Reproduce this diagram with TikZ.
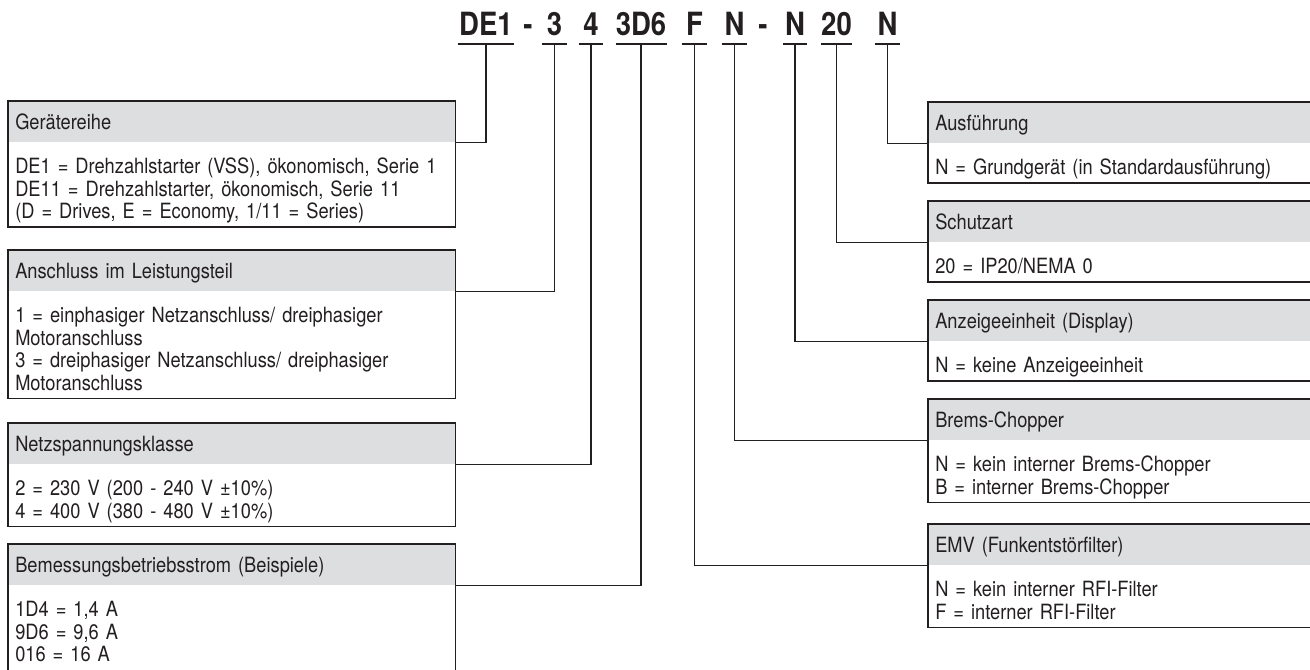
\documentclass[tikz,border=0pt]{standalone}
\usepackage{fontspec}
\setmainfont{TeX Gyre Heros}[FakeStretch=0.87]
\newfontfamily\codefont{TeX Gyre Heros}[FakeStretch=0.86]
\newcommand\FirstStrut{\rule{0pt}{23.25pt}}
\newcommand\LastStrut{\rule[-6pt]{0pt}{6pt}}
\definecolor{hdrgray}{RGB}{221,222,224}
\definecolor{ink}{RGB}{35,31,32}
\begin{document}
\begin{tikzpicture}[x=0.75pt,y=-0.75pt,
  every node/.style={font=\fontsize{15.75pt}{16.875pt}\selectfont, inner sep=0pt, text=ink},
  hdr/.style={anchor=north west, fill=hdrgray, inner xsep=5.25pt, inner ysep=0pt,
              text height=11.25pt, text depth=0pt, minimum height=30.75pt, align=left},
  lhdr/.style={hdr, text width=324.75pt},
  rhdr/.style={hdr, text width=276pt},
  bodytext/.style={anchor=north west, inner xsep=5.25pt, inner ysep=0pt, align=left},
  lbody/.style={bodytext, text width=324.75pt},
  rbody/.style={bodytext, text width=276pt},
  code/.style={font=\codefont\bfseries\fontsize{24pt}{26pt}\selectfont, anchor=base,
               inner xsep=0pt, inner ysep=6pt, text depth=0pt},
  frame/.style={draw=ink, line width=1.2pt},
  link/.style={draw=ink, line width=1.2pt},
]
\useasboundingbox (0,0) rectangle (1310,670);
\coordinate (bottomedge) at (0,670);

% ---- code line ----
\node[code, minimum width=42pt]    (c1) at (486,36)   {DE1};
\node[code]                        (d1) at (528,36)   {-};
\node[code, minimum width=18.75pt] (c2) at (554.5,36) {3};
\node[code, minimum width=18pt]    (c3) at (591,36)   {4};
\node[code, minimum width=36pt]    (c4) at (641,36)   {3D6};
\node[code, minimum width=18.75pt] (c5) at (694.5,36) {F};
\node[code, minimum width=18.75pt] (c6) at (734.5,36) {N};
\node[code]                        (d2) at (763,36)   {-};
\node[code, minimum width=18pt]    (c7) at (795,36)   {N};
\node[code, minimum width=18.75pt] (c8) at (836.5,36) {20};
\node[code, minimum width=18.75pt] (c9) at (887.5,36) {N};
\foreach \c in {c1,c2,c3,c4,c5,c6,c7,c8,c9}
  \draw[link] (\c.south west) -- (\c.south east);

% ---- left boxes ----
\node[lhdr] (lh1) at (8,101) {Gerätereihe};
\node[lbody] (lb1) at (lh1.south west) {\FirstStrut DE1 = Drehzahlstarter (VSS), ökonomisch, Serie 1\\DE11 = Drehzahlstarter, ökonomisch, Serie 11\\(D = Drives, E = Economy, 1/11 = Series)\LastStrut};
\draw[frame] (lh1.north west) rectangle (lb1.south east);

\node[lhdr] (lh2) at (8,250) {Anschluss im Leistungsteil};
\node[lbody] (lb2) at (lh2.south west) {\FirstStrut 1 = einphasiger Netzanschluss/ dreiphasiger\\Motoranschluss\\3 = dreiphasiger Netzanschluss/ dreiphasiger\\Motoranschluss\LastStrut};
\draw[frame] (lh2.north west) rectangle (lb2.south east);

\node[lhdr] (lh3) at (8,423) {Netzspannungsklasse};
\node[lbody] (lb3) at (lh3.south west) {\FirstStrut 2 = 230 V (200 - 240 V ±10\%)\\4 = 400 V (380 - 480 V ±10\%)\LastStrut};
\draw[frame] (lh3.north west) rectangle (lb3.south east);

\node[lhdr] (lh4) at (8,544) {Bemessungsbetriebsstrom (Beispiele)};
\node[lbody] (lb4) at (lh4.south west) {\FirstStrut 1D4 = 1,4 A\\9D6 = 9,6 A\\016 = 16 A\LastStrut};
\draw[frame] (lh4.north west |- bottomedge) -- (lh4.north west) -- (lh4.north east) -- (lh4.north east |- bottomedge);

% ---- right boxes ----
\node[rhdr] (rh1) at (928,102) {Ausführung};
\node[rbody] (rb1) at (rh1.south west) {\FirstStrut N = Grundgerät (in Standardausführung)\LastStrut};
\draw[frame] (rh1.north east) -- (rh1.north west) -- (rb1.south west) -- (rb1.south east);

\node[rhdr] (rh2) at (928,201) {Schutzart};
\node[rbody] (rb2) at (rh2.south west) {\FirstStrut 20 = IP20/NEMA 0\LastStrut};
\draw[frame] (rh2.north east) -- (rh2.north west) -- (rb2.south west) -- (rb2.south east);

\node[rhdr] (rh3) at (928,300) {Anzeigeeinheit (Display)};
\node[rbody] (rb3) at (rh3.south west) {\FirstStrut N = keine Anzeigeeinheit\LastStrut};
\draw[frame] (rh3.north east) -- (rh3.north west) -- (rb3.south west) -- (rb3.south east);

\node[rhdr] (rh4) at (928,399) {Brems-Chopper};
\node[rbody] (rb4) at (rh4.south west) {\FirstStrut N = kein interner Brems-Chopper\\B = interner Brems-Chopper\LastStrut};
\draw[frame] (rh4.north east) -- (rh4.north west) -- (rb4.south west) -- (rb4.south east);

\node[rhdr] (rh5) at (928,524) {EMV (Funkentstörfilter)};
\node[rbody] (rb5) at (rh5.south west) {\FirstStrut N = kein interner RFI-Filter\\F = interner RFI-Filter\LastStrut};
\draw[frame] (rh5.north east) -- (rh5.north west) -- (rb5.south west) -- (rb5.south east);

% ---- connectors ----
\draw[link] (c1.south) |- (lh1.south east);
\draw[link] (c2.south) |- (lh2.south east);
\draw[link] (c3.south) |- (lh3.south east);
\draw[link] (c4.south) |- (lh4.south east);
\draw[link] (c5.south) |- (rh5.south west);
\draw[link] (c6.south) |- (rh4.south west);
\draw[link] (c7.south) |- (rh3.south west);
\draw[link] (c8.south) |- (rh2.south west);
\draw[link] (c9.south) |- (rh1.south west);
\end{tikzpicture}
\end{document}
